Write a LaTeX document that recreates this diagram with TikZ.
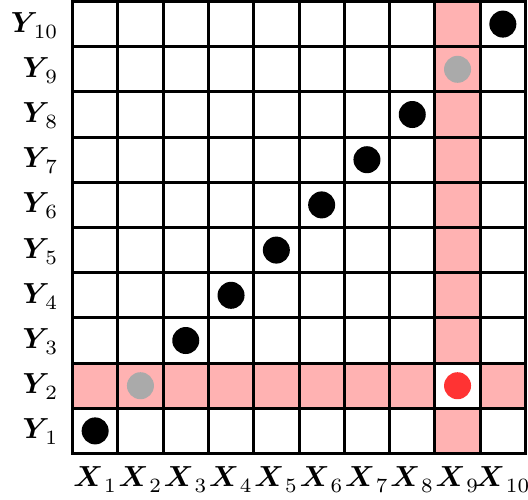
\documentclass[tikz,border=0pt]{standalone}
\usepackage{amsmath,bm}
\definecolor{hl}{RGB}{255,178,178}
\definecolor{reddot}{RGB}{255,51,51}
\definecolor{graydot}{RGB}{170,170,170}
\newcommand\varlab[2]{$\boldsymbol{#1}_{\mkern2.5mu\lower0.6pt\hbox{$\scriptstyle #2$}}$}
\begin{document}
\begin{tikzpicture}[x=1pt,y=-1pt,
  gridline/.style={line width=3pt,black,line cap=rect},
  dotnode/.style={circle,inner sep=0pt,minimum size=27pt},
  lab/.style={inner sep=0pt,scale=2.9}]
\useasboundingbox (0,0) rectangle (528,499);
\def\LX{72.5}\def\CW{45.3}\def\TY{1.5}\def\CH{45.2}
% highlighted row Y2 and column X9
\fill[hl] (\LX,{\TY+8*\CH}) rectangle ({\LX+10*\CW},{\TY+9*\CH});
\fill[hl] ({\LX+8*\CW},\TY) rectangle ({\LX+9*\CW},{\TY+10*\CH});
\fill[white] ({\LX+8*\CW},{\TY+8*\CH}) rectangle ({\LX+9*\CW},{\TY+9*\CH});
% grid
\foreach \i in {0,...,10}{
  \draw[gridline] ({\LX+\i*\CW},\TY) -- ({\LX+\i*\CW},{\TY+10*\CH});
  \draw[gridline] (\LX,{\TY+\i*\CH}) -- ({\LX+10*\CW},{\TY+\i*\CH});
}
% labels
\foreach \i in {1,...,10}{
  \node[lab,anchor=base] (x\i) at ({\LX+(\i-0.5)*\CW},486) {\varlab{X}{\i}};
  \node[lab,anchor=base east] (y\i) at (59,{\TY+(10.5-\i)*\CH+8}) {\varlab{Y}{\i}};
}
% dots
\foreach \i in {1,3,4,5,6,7,8,10}{
  \node[dotnode,fill=black] (d\i) at ({\LX+(\i-0.5)*\CW},{\TY+(10.5-\i)*\CH}) {};
}
\node[dotnode,fill=graydot] (g2) at ({\LX+1.5*\CW},{\TY+8.5*\CH}) {};
\node[dotnode,fill=graydot] (g9) at ({\LX+8.5*\CW},{\TY+1.5*\CH}) {};
\node[dotnode,fill=reddot] (r) at ({\LX+8.5*\CW},{\TY+8.5*\CH}) {};
\end{tikzpicture}
\end{document}
